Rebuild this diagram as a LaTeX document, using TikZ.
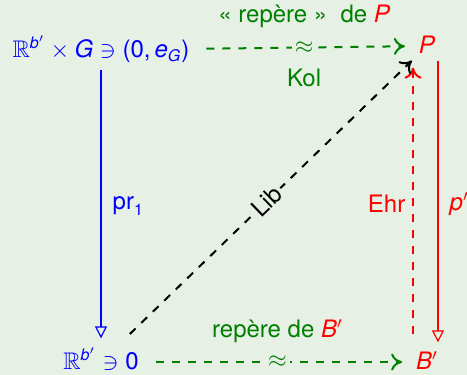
\documentclass[tikz,border=0pt]{standalone}
\usepackage{amsmath,amssymb}
\usepackage{fontspec}
\setmainfont{TeX Gyre Heros}
\usetikzlibrary{arrows.meta}
\definecolor{blockbg}{RGB}{230,240,228}
\definecolor{cdblue}{RGB}{0,0,255}
\definecolor{cdred}{RGB}{255,0,0}
\definecolor{cdgreen}{RGB}{0,128,0}

\begin{document}
\begin{tikzpicture}[x=0.5pt, y=-0.5pt,
    font=\fontsize{12}{14}\selectfont,
    obj/.style={text height=1.9ex, text depth=.5ex},
    dashline/.style={line width=1pt, dash pattern=on 4pt off 4pt,
      -{To[length=5.5pt, width=8.5pt]}},
    iso/.style={dashline, cdgreen, shorten <=5pt, shorten >=3.5pt},
    proj/.style={line width=1pt,
      -{Triangle[open, length=6pt, width=6pt, line width=0.6pt]}},
    approx/.style={fill=blockbg, text=cdgreen, inner sep=1.5pt}]
    \fill[blockbg] (0,0) rectangle (467,375);
    \useasboundingbox (0,0) rectangle (467,375);
    \node[obj, cdblue] (A) at (101,50) {$\mathbb{R}^{\mathit{b}'}\times\mathit{G}\ni\text{(0,\,}\mathit{e}_{\mathit{G}}\text{)}$};
    \node[obj, cdred] (P) at (427,46) {$\mathit{P}$};
    \node[obj, cdblue] (B) at (101,362) {$\mathbb{R}^{\mathit{b}'}\ni\text{0}$};
    \node[obj, cdred] (Bp) at (427,362) {$\mathit{B}'$};
    \draw[iso] (A) -- node[approx] {$\approx$}
      node[above=6pt, cdgreen] {« repère »\ \ de \textcolor{cdred}{$\mathit{P}$}}
      node[below=7pt, cdgreen] {Kol} (P);
    \draw[iso] (B) -- node[approx] {$\approx$}
      node[above=6pt, cdgreen] {repère de \textcolor{cdred}{$\mathit{B}'$}} (Bp);
    \draw[proj, cdblue, shorten >=2pt] (A) -- node[right=2pt] {$\mathrm{pr}_{\text{1}}$} (B);
    \draw[proj, cdred, shorten <=-2.5pt] ([xshift=5.5pt]P.south) -- node[right=2pt] {$\mathit{p}'$} ([xshift=5.5pt]Bp.north);
    \draw[dashline, cdred, shorten <=4pt, shorten >=1pt] ([xshift=-7pt]Bp.north) -- node[left] {Ehr} ([xshift=-7pt]P.south);
    \draw[dashline, black, shorten <=6pt] (B) -- node[sloped, fill=blockbg, inner sep=1.5pt] {Lib} (P);
\end{tikzpicture}
\end{document}
